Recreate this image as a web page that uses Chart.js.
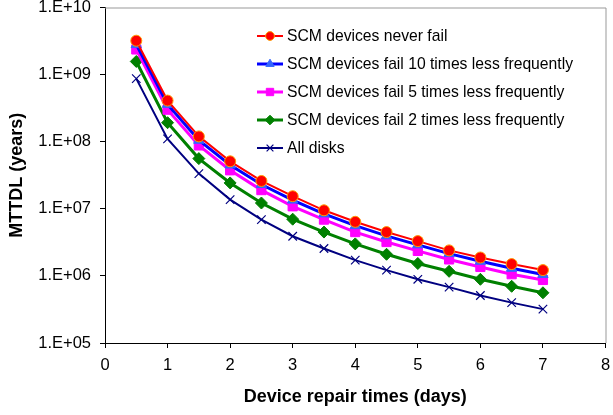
<!DOCTYPE html>
<html>
<head>
<meta charset="utf-8">
<script src="https://cdn.jsdelivr.net/npm/chart.js@4/dist/chart.umd.min.js"></script>
<style>
  html, body { margin: 0; padding: 0; background: #fff; }
  #wrap { width: 613px; height: 415px; }
</style>
</head>
<body>
<div id="wrap"><canvas id="chart" width="613" height="415"></canvas></div>
<script>
// repair times (days)
const repairDays = [0.5, 1, 1.5, 2, 2.5, 3, 3.5, 4, 4.5, 5, 5.5, 6, 6.5, 7];

// MTTDL (years)
const neverFail = [3.2e9, 4.1e8, 1.2e8, 5.1e7, 2.6e7, 1.54e7, 9.5e6, 6.4e6, 4.5e6, 3.3e6, 2.4e6, 1.88e6, 1.5e6, 1.22e6];
const fail10x = [2.8e9, 3.6e8, 1.05e8, 4.5e7, 2.3e7, 1.35e7, 8.4e6, 5.6e6, 3.95e6, 2.9e6, 2.15e6, 1.65e6, 1.3e6, 1.05e6];
const fail5x = [2.37e9, 3.0e8, 8.8e7, 3.75e7, 1.9e7, 1.09e7, 6.9e6, 4.5e6, 3.2e6, 2.36e6, 1.76e6, 1.36e6, 1.06e6, 8.7e5];
const fail2x = [1.57e9, 1.92e8, 5.6e7, 2.43e7, 1.22e7, 7.0e6, 4.5e6, 3.0e6, 2.1e6, 1.53e6, 1.17e6, 8.9e5, 7.0e5, 5.6e5];
const allDisks = [8.7e8, 1.1e8, 3.35e7, 1.37e7, 6.9e6, 3.9e6, 2.56e6, 1.72e6, 1.22e6, 8.9e5, 6.8e5, 5.1e5, 4.0e5, 3.2e5];

const seriesNames = [
  "SCM devices never fail",
  "SCM devices fail 10 times less frequently",
  "SCM devices fail 5 times less frequently",
  "SCM devices fail 2 times less frequently",
  "All disks"
];
const yTicks = [1e5, 1e6, 1e7, 1e8, 1e9, 1e10];
const xTicks = [0, 1, 2, 3, 4, 5, 6, 7, 8];

const pts = (vals) => vals.map((v, i) => ({ x: repairDays[i], y: v }));

const FONT = "Arial, 'Liberation Sans', sans-serif";

const datasets = [
  { label: seriesNames[0], data: pts(neverFail), borderColor: "#ff0000", borderWidth: 2,
    pointStyle: "circle", pointRadius: 5.5, pointBackgroundColor: "#ff0000", pointBorderColor: "#ff9900", pointBorderWidth: 1 },
  { label: seriesNames[1], data: pts(fail10x), borderColor: "#0000ff", borderWidth: 3,
    pointStyle: "triangle", pointRadius: 6, pointBackgroundColor: "#3366ff", pointBorderColor: "#3366ff", pointBorderWidth: 1 },
  { label: seriesNames[2], data: pts(fail5x), borderColor: "#ff00ff", borderWidth: 3,
    pointStyle: "rect", pointRadius: 6.5, pointBackgroundColor: "#ff00ff", pointBorderColor: "#ff00ff", pointBorderWidth: 1 },
  { label: seriesNames[3], data: pts(fail2x), borderColor: "#008000", borderWidth: 3,
    pointStyle: "rectRot", pointRadius: 6, pointBackgroundColor: "#008000", pointBorderColor: "#008000", pointBorderWidth: 1 },
  { label: seriesNames[4], data: pts(allDisks), borderColor: "#000080", borderWidth: 2,
    pointStyle: "crossRot", pointRadius: 6, pointBackgroundColor: "#000080", pointBorderColor: "#000080", pointBorderWidth: 1.2 }
];
datasets.forEach(d => { d.tension = 0; d.fill = false; });

// gray frame on top/right of the plot area
const frame = {
  id: "frame",
  beforeDatasetsDraw(chart) {
    const { ctx, chartArea: a } = chart;
    ctx.save();
    ctx.strokeStyle = "#999999";
    ctx.lineWidth = 1;
    ctx.beginPath();
    ctx.moveTo(a.left, a.top + 0.5);
    ctx.lineTo(a.right + 0.5, a.top + 0.5);
    ctx.lineTo(a.right + 0.5, a.bottom);
    ctx.stroke();
    ctx.restore();
  }
};

// legend inside the plot, upper right
const insideLegend = {
  id: "insideLegend",
  afterDatasetsDraw(chart) {
    const ctx = chart.ctx;
    const x0 = 257, x1 = 283, rowY = [36, 64, 92, 120, 148];
    ctx.save();
    chart.data.datasets.forEach((d, i) => {
      const y = rowY[i];
      ctx.strokeStyle = d.borderColor;
      ctx.lineWidth = d.borderWidth;
      ctx.beginPath();
      ctx.moveTo(x0, y);
      ctx.lineTo(x1, y);
      ctx.stroke();
      ctx.fillStyle = d.pointBackgroundColor;
      ctx.strokeStyle = d.pointBorderColor;
      ctx.lineWidth = d.pointBorderWidth;
      Chart.helpers.drawPoint(ctx, {
        pointStyle: d.pointStyle, radius: d.pointRadius * 0.8, borderWidth: d.pointBorderWidth
      }, (x0 + x1) / 2, y);
      ctx.fillStyle = "#000";
      ctx.font = "15.7px " + FONT;
      ctx.textAlign = "left";
      ctx.textBaseline = "middle";
      ctx.fillText(d.label, x1 + 4, y + 1);
    });
    ctx.restore();
  }
};

new Chart(document.getElementById("chart"), {
  type: "line",
  data: { datasets: datasets },
  options: {
    responsive: false,
    animation: false,
    layout: { padding: { top: 7, right: 4, left: 0, bottom: 0 } },
    plugins: { legend: { display: false }, tooltip: { enabled: false } },
    scales: {
      x: {
        type: "linear", min: 0, max: 8,
        afterBuildTicks: (s) => { s.ticks = xTicks.map(v => ({ value: v })); },
        afterFit: (s) => { s.height = 72; s.paddingLeft = 0; s.paddingRight = 0; },
        grid: { display: true, drawOnChartArea: false, drawTicks: true, tickLength: 5, color: "#000" },
        border: { color: "#000", width: 1 },
        ticks: { color: "#000", font: { family: FONT, size: 16.5 }, padding: 8, maxRotation: 0 },
        title: { display: true, text: "Device repair times (days)", color: "#000",
          font: { family: FONT, size: 18, weight: "bold" }, padding: { top: 0, bottom: 7 } }
      },
      y: {
        type: "logarithmic", min: 1e5, max: 1e10,
        afterBuildTicks: (s) => { s.ticks = yTicks.map(v => ({ value: v })); },
        afterFit: (s) => { s.width = 105; s.paddingTop = 0; s.paddingBottom = 0; },
        grid: { display: true, drawOnChartArea: false, drawTicks: true, tickLength: 5, color: "#000" },
        border: { color: "#000", width: 1 },
        ticks: {
          color: "#000", font: { family: FONT, size: 16.5 }, padding: 9,
          callback: (v) => "1.E+" + String(Math.round(Math.log10(v))).padStart(2, "0")
        },
        title: { display: true, text: "MTTDL (years)", color: "#000",
          font: { family: FONT, size: 18, weight: "bold" }, padding: { top: 6, bottom: 0 } }
      }
    }
  },
  plugins: [frame, insideLegend]
});
</script>
</body>
</html>
